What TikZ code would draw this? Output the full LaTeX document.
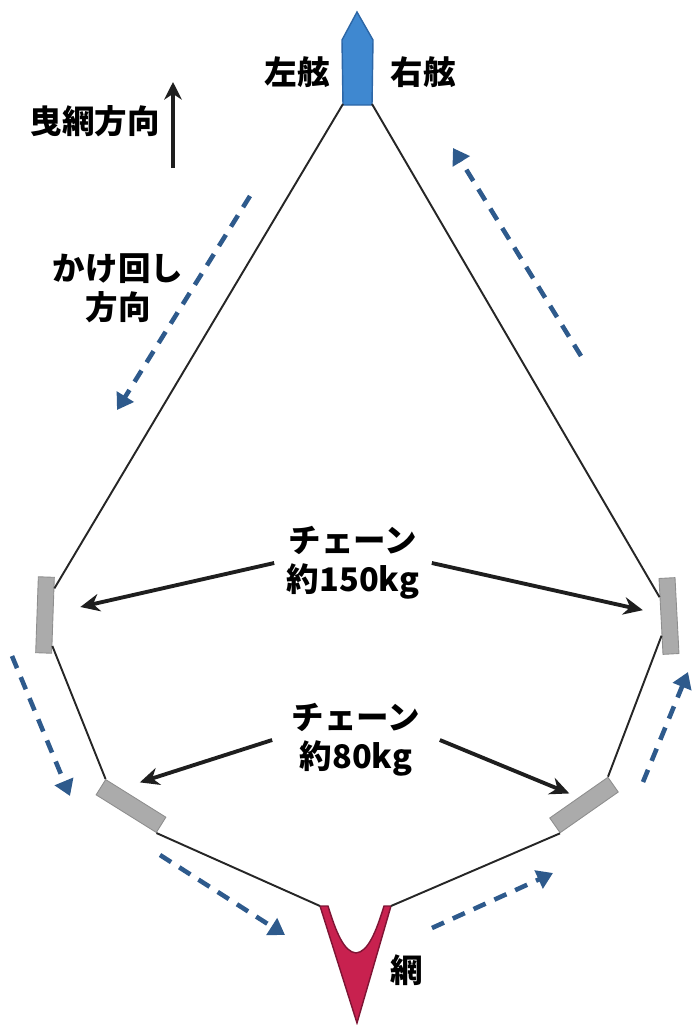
\documentclass[tikz,border=0pt]{standalone}
\usepackage{fontspec}
\setmainfont{Noto Sans CJK JP}
\usetikzlibrary{arrows.meta, calc}

\definecolor{hullblue}{HTML}{3F88D0}
\definecolor{hulledge}{HTML}{2C66A6}
\definecolor{chaingray}{HTML}{ABABAB}
\definecolor{chainedge}{HTML}{8E8E8E}
\definecolor{netred}{HTML}{C8214F}
\definecolor{netedge}{HTML}{7E1434}
\definecolor{towline}{HTML}{262626}
\definecolor{pointerblack}{HTML}{1E1E1E}
\definecolor{haulblue}{HTML}{2E5A8C}

\begin{document}
\begin{tikzpicture}[
		x=0.02cm, y=-0.02cm,
		font=\fontsize{18.5}{22}\selectfont\bfseries,
		tow/.style={draw=towline, line width=1.1pt},
		chainbox/.style={
			draw=chainedge,
			fill=chaingray,
			line width=0.5pt,
			inner sep=0pt
		},
		upright/.style={chainbox, minimum width=0.32cm, minimum height=1.52cm},
		lying/.style={chainbox, minimum width=1.42cm, minimum height=0.36cm},
		pointer/.style={-{Stealth[length=11pt,width=10pt]}, line width=2.2pt, draw=pointerblack},
		haul/.style={
			-{Triangle[length=9pt,width=11pt]},
			draw=haulblue,
			line width=2.6pt,
			dash pattern=on 7.5pt off 5.5pt
		},
		lbl/.style={align=center, inner sep=1pt}
		]
		
		\useasboundingbox (0,0) rectangle (695,1025);
		
		% ---- Boat ----
		\filldraw[fill=hullblue, draw=hulledge, line width=0.8pt]
		(357,12) -- (373,40) -- (372,105) -- (343,105) -- (342,40) -- cycle;
		\coordinate (port) at (343,104);
		\coordinate (stbd) at (372,104);
		
		\node (portlbl) at (297,72) {左舷};
		\node (stbdlbl) at (423,72) {右舷};
		
		% ---- Towing direction ----
		\node (towlbl) at (95,121) {曳網方向};
		\coordinate (towtail) at (173,168);
		\coordinate (towhead) at (173,82);
		\draw[-{Stealth[length=10pt,width=10pt]}, line width=2.2pt, pointerblack] (towtail) -- (towhead);
		
		% ---- Chains ----
		\node[upright, rotate=-2] (chainUL) at (45,615) {};
		\node[upright, rotate=3] (chainUR) at (669,616) {};
		\node[lying, rotate=-32] (chainLL) at (131,806) {};
		\node[lying, rotate=35] (chainLR) at (584,805) {};
		
		% ---- Net ----
		\coordinate (netL) at (320,906);
		\coordinate (netR) at (391,906);
		\filldraw[fill=netred, draw=netedge, line width=0.8pt]
		(netL) -- (357,1023) -- (netR) -- (384,906)
		.. controls (376,932) and (368,952) .. (356,953)
		.. controls (344,952) and (336,932) .. (328,906) -- cycle;
		\node (netlbl) at (407,970) {網};
		
		% ---- Tow lines ----
		\draw[tow] (port) -- ($(chainUL.north east)!.15!(chainUL.south east)$);
		\draw[tow] (stbd) -- ($(chainUR.north west)!.25!(chainUR.south west)$);
		\draw[tow] ($(chainUL.north east)!.9!(chainUL.south east)$) -- (chainLL.north west);
		\draw[tow] ($(chainUR.north west)!.75!(chainUR.south west)$) -- (chainLR.north east);
		\draw[tow] (chainLL.south east) -- (netL);
		\draw[tow] (chainLR.south west) -- (netR);
		
		% ---- Chain labels ----
		\node[lbl, minimum width=3.14cm] (chain150) at (353,563) {チェーン\\約150kg};
		\node[lbl, minimum width=3.34cm] (chain80) at (356,740) {チェーン\\約80kg};
		
		\draw[pointer, shorten >=0.55cm] (chain150.west) -- (chainUL);
		\draw[pointer, shorten >=0.36cm] (chain150.east) -- (chainUR);
		\draw[pointer, shorten >=0.4cm] (chain80.west) -- ($(chainLL.north west)!.5!(chainLL.north)$);
		\draw[pointer, shorten >=0.2cm] (chain80.east) -- (chainLR.north);
		
		% ---- Hauling round ----
		\node[lbl] (roundlbl) at (118,288) {かけ回し\\方向};
		
		\coordinate (h1s) at (250,196);
		\coordinate (h1e) at (117,410);
		\coordinate (h2s) at (12,656);
		\coordinate (h2e) at (70,796);
		\coordinate (h3s) at (160,855);
		\coordinate (h3e) at (285,935);
		\coordinate (h4s) at (432,928);
		\coordinate (h4e) at (553,873);
		\coordinate (h5s) at (643,782);
		\coordinate (h5e) at (688,672);
		\coordinate (h6s) at (581,356);
		\coordinate (h6e) at (453,148);
		
		\draw[haul] (h1s) -- (h1e);
		\draw[haul] (h2s) -- (h2e);
		\draw[haul] (h3s) -- (h3e);
		\draw[haul] (h4s) -- (h4e);
		\draw[haul] (h5s) -- (h5e);
		\draw[haul] (h6s) -- (h6e);
		
	\end{tikzpicture}
\end{document}
